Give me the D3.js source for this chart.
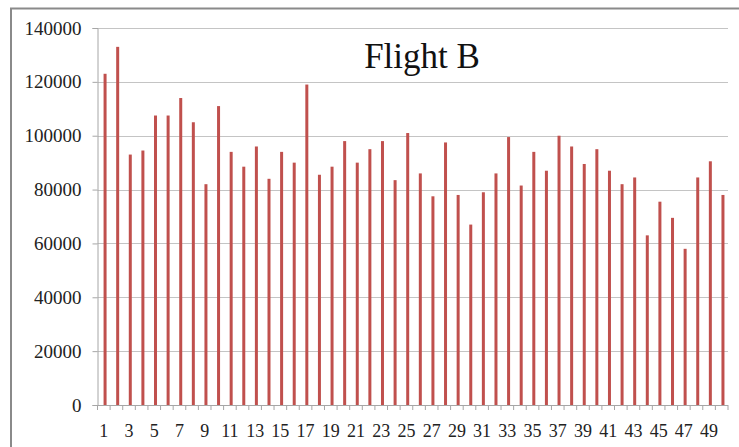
<!DOCTYPE html>
<html>
<head>
<meta charset="utf-8">
<script src="https://cdn.jsdelivr.net/npm/d3@7"></script>
<style>
  html, body { margin: 0; padding: 0; background: #fff; }
  svg { display: block; }
</style>
</head>
<body>
<svg id="chart" width="739" height="447"></svg>
<script>
const title = "Flight B";
const categories = d3.range(1, 51).map(String);
const values = [
  123000, 133000, 93000, 94500, 107500, 107500, 114000, 105000, 82000, 111000,
  94000, 88500, 96000, 84000, 94000, 90000, 119000, 85500, 88500, 98000,
  90000, 95000, 98000, 83500, 101000, 86000, 77500, 97500, 78000, 67000,
  79000, 86000, 99500, 81500, 94000, 87000, 100000, 96000, 89500, 95000,
  87000, 82000, 84500, 63000, 75500, 69500, 58000, 84500, 90500, 78000
];
const yTicks = [0, 20000, 40000, 60000, 80000, 100000, 120000, 140000];
const xTickLabels = categories.filter((d, i) => i % 2 === 0);

const svg = d3.select("#chart");
const W = 739, H = 447;
const plot = { left: 97.5, right: 728, top: 28, bottom: 405 };

// outer chart border (extends beyond the visible window)
svg.append("rect")
  .attr("x", 11).attr("y", 8.5)
  .attr("width", 800).attr("height", 600)
  .attr("fill", "#fff")
  .attr("stroke", "#8a8a8a").attr("stroke-width", 2);

const x = d3.scaleBand().domain(categories).range([plot.left, plot.right]).paddingInner(0).paddingOuter(0);
const y = d3.scaleLinear().domain([0, 140000]).range([plot.bottom, plot.top]);

// gridlines
svg.append("g")
  .selectAll("line")
  .data(yTicks.filter(d => d > 0))
  .join("line")
  .attr("x1", plot.left).attr("x2", plot.right)
  .attr("y1", d => Math.round(y(d)) + 0.5).attr("y2", d => Math.round(y(d)) + 0.5)
  .attr("stroke", "#c4c4c4").attr("stroke-width", 1);

// y axis
const yAxis = svg.append("g")
  .attr("transform", `translate(${plot.left},0)`)
  .call(d3.axisLeft(y).tickValues(yTicks).tickSize(5).tickPadding(11).tickFormat(d3.format("d")));
yAxis.select(".domain").attr("stroke", "#a6a6a6");
yAxis.selectAll(".tick line").attr("stroke", "#a6a6a6");
yAxis.selectAll("text")
  .attr("font-family", "'Liberation Serif', 'Times New Roman', serif")
  .attr("font-size", 19).attr("fill", "#222");

// bars
const barW = 3;
svg.append("g")
  .selectAll("rect")
  .data(values)
  .join("rect")
  .attr("x", (d, i) => x(categories[i]) + x.bandwidth() * 0.6 - barW / 2)
  .attr("width", barW)
  .attr("y", d => y(d))
  .attr("height", d => y(0) - y(d))
  .attr("fill", "#c0504d");

// x axis: ticks at band boundaries
const bounds = categories.map(c => x(c)).concat([plot.right]);
const xg = svg.append("g");
xg.append("line")
  .attr("x1", plot.left).attr("x2", plot.right)
  .attr("y1", plot.bottom + 0.5).attr("y2", plot.bottom + 0.5)
  .attr("stroke", "#a6a6a6");
xg.selectAll("line.tk")
  .data(bounds)
  .join("line").attr("class", "tk")
  .attr("x1", d => d).attr("x2", d => d)
  .attr("y1", plot.bottom).attr("y2", plot.bottom + 5)
  .attr("stroke", "#a6a6a6");
xg.selectAll("text")
  .data(xTickLabels)
  .join("text")
  .attr("x", d => x(d) + x.bandwidth() / 2)
  .attr("y", 437)
  .attr("text-anchor", "middle")
  .attr("font-family", "'Liberation Serif', 'Times New Roman', serif")
  .attr("font-size", 18).attr("fill", "#222")
  .text(d => d);

// title
svg.append("text")
  .attr("x", 422).attr("y", 68)
  .attr("text-anchor", "middle")
  .attr("font-family", "'Liberation Serif', 'Times New Roman', serif")
  .attr("font-size", 35).attr("fill", "#111")
  .text(title);
</script>
</body>
</html>
